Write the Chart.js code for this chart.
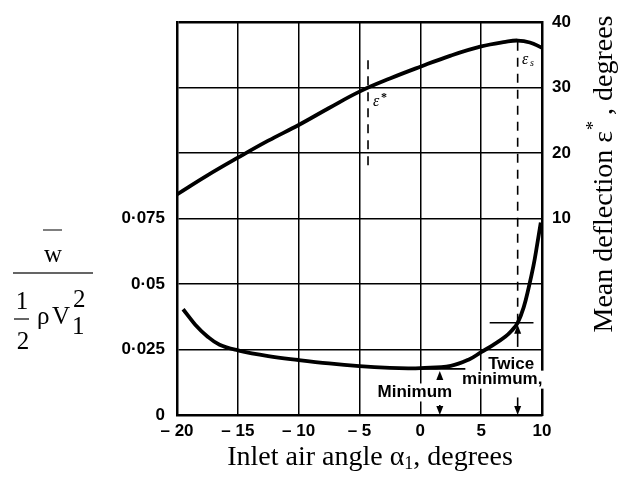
<!DOCTYPE html>
<html>
<head>
<meta charset="utf-8">
<script src="https://cdn.jsdelivr.net/npm/chart.js@4.4.1/dist/chart.umd.min.js"></script>
<style>
  html, body { margin: 0; padding: 0; background: #fff; }
  #wrap { width: 620px; height: 484px; }
</style>
</head>
<body>
<div id="wrap"><canvas id="chart" width="620" height="484"></canvas></div>
<script>
// inlet angle (deg) vs mean deflection (deg, right axis)
const deflectionAngles = [-20, -17.5, -15, -12.5, -10, -7.5, -5, -2.5, 0, 2.5, 5, 7, 8, 9, 10];
const deflectionValues = [13.7, 16.6, 19.3, 21.9, 24.3, 26.9, 29.4, 31.4, 33.2, 34.9, 36.3, 37.0, 37.2, 36.9, 36.1];

// inlet angle (deg) vs loss coefficient (left axis)
const lossAngles = [-19.5, -18.5, -17.5, -16.5, -15, -12.5, -10, -7.5, -5, -2.5, -1, 0, 2.5, 4, 5, 6, 7, 7.5, 8, 8.5, 8.9, 9.3, 9.6, 9.9];
const lossValues = [0.0404, 0.0345, 0.0300, 0.0268, 0.0247, 0.0225, 0.0210, 0.0197, 0.0187, 0.0180, 0.0178, 0.0179, 0.0188, 0.0212, 0.0240, 0.0268, 0.0300, 0.0322, 0.0352, 0.0412, 0.0485, 0.0570, 0.0650, 0.0735];

const xTicks = [-20, -15, -10, -5, 0, 5, 10];
const lossGrid = [0, 0.025, 0.05, 0.075, 0.1, 0.125, 0.15];
const lossLabelled = [0, 0.025, 0.05, 0.075];
const deflectionLabelled = [10, 20, 30, 40];

// annotations (data units)
const nominalAngle = -4.3;
const nominalDash = [34.2, 17.4];
const stallAngle = 8;
const stallDashTop = 37.0;
const minimumLoss = 0.0176;
const minimumLine = [-1, 3.7];
const minimumArrowAngle = 1.6;
const twiceMinimumLoss = 0.0352;
const twiceLine = [5.7, 9.3];

const tickFont = { family: '"Liberation Sans", Arial, sans-serif', size: 17, weight: 'bold' };
const serif = '"Liberation Serif", "Times New Roman", serif';
const titleSize = 28;

function arrow(ctx, x, yFrom, yTo) {
  const dir = yTo < yFrom ? 1 : -1;
  ctx.beginPath();
  ctx.moveTo(x, yFrom);
  ctx.lineTo(x, yTo + dir * 6);
  ctx.stroke();
  ctx.beginPath();
  ctx.moveTo(x, yTo);
  ctx.lineTo(x - 3.5, yTo + dir * 9);
  ctx.lineTo(x + 3.5, yTo + dir * 9);
  ctx.closePath();
  ctx.fill();
}

function boxedText(ctx, text, x, y) {
  const w = ctx.measureText(text).width;
  ctx.fillStyle = '#fff';
  ctx.fillRect(x - w / 2 - 2, y - 9, w + 4, 18);
  ctx.fillStyle = '#000';
  ctx.fillText(text, x, y);
}

const annotations = {
  id: 'annotations',
  afterDatasetsDraw(chart) {
    const ctx = chart.ctx;
    const xs = chart.scales.x, yl = chart.scales.y, yr = chart.scales.y1;
    ctx.save();
    ctx.strokeStyle = '#000';
    ctx.fillStyle = '#000';
    ctx.lineWidth = 1.6;

    // dashed lines
    ctx.setLineDash([9, 7]);
    ctx.beginPath();
    ctx.moveTo(xs.getPixelForValue(nominalAngle), yr.getPixelForValue(nominalDash[0]));
    ctx.lineTo(xs.getPixelForValue(nominalAngle), yr.getPixelForValue(nominalDash[1]));
    ctx.moveTo(xs.getPixelForValue(stallAngle), yr.getPixelForValue(stallDashTop));
    ctx.lineTo(xs.getPixelForValue(stallAngle), yl.getPixelForValue(twiceMinimumLoss));
    ctx.stroke();
    ctx.setLineDash([]);

    // minimum / twice-minimum levels
    ctx.beginPath();
    ctx.moveTo(xs.getPixelForValue(minimumLine[0]), yl.getPixelForValue(minimumLoss));
    ctx.lineTo(xs.getPixelForValue(minimumLine[1]), yl.getPixelForValue(minimumLoss));
    ctx.moveTo(xs.getPixelForValue(twiceLine[0]), yl.getPixelForValue(twiceMinimumLoss));
    ctx.lineTo(xs.getPixelForValue(twiceLine[1]), yl.getPixelForValue(twiceMinimumLoss));
    ctx.stroke();

    // dimension arrows
    const xm = xs.getPixelForValue(minimumArrowAngle);
    arrow(ctx, xm, yl.getPixelForValue(0.0138), yl.getPixelForValue(minimumLoss) + 2);
    arrow(ctx, xm, yl.getPixelForValue(0.0038), yl.getPixelForValue(0));
    const xt = xs.getPixelForValue(stallAngle);
    arrow(ctx, xt, yl.getPixelForValue(0.026), yl.getPixelForValue(twiceMinimumLoss) + 2);
    arrow(ctx, xt, yl.getPixelForValue(0.0067), yl.getPixelForValue(0));

    // labels
    ctx.font = 'bold 17px "Liberation Sans", Arial, sans-serif';
    ctx.textAlign = 'center';
    ctx.textBaseline = 'middle';
    boxedText(ctx, 'Minimum', xs.getPixelForValue(-0.45), yl.getPixelForValue(0.0086));
    boxedText(ctx, 'Twice', xs.getPixelForValue(7.47), yl.getPixelForValue(0.0195));
    boxedText(ctx, 'minimum,', xs.getPixelForValue(6.73), yl.getPixelForValue(0.0135));

    ctx.font = 'italic 16px ' + serif;
    ctx.textAlign = 'left';
    let ex = xs.getPixelForValue(-3.9), ey = yr.getPixelForValue(27.9);
    ctx.fillText('\u03b5', ex, ey);
    ctx.font = 'bold 12px ' + serif;
    ctx.fillText('*', ex + 8, ey - 4);
    ex = xs.getPixelForValue(8.35); ey = yr.getPixelForValue(34.3);
    ctx.font = 'italic 16px ' + serif;
    ctx.fillText('\u03b5', ex, ey);
    ctx.font = 'italic 10px ' + serif;
    ctx.fillText('s', ex + 8, ey + 4);
    ctx.restore();
  }
};

const titles = {
  id: 'titles',
  beforeDraw(chart) {
    const ctx = chart.ctx;
    ctx.save();
    ctx.fillStyle = '#fff';
    ctx.fillRect(0, 0, chart.width, chart.height);
    ctx.restore();
  },
  afterDraw(chart) {
    const ctx = chart.ctx;
    const big = titleSize + 'px ' + serif;
    const small = Math.round(titleSize * 0.65) + 'px ' + serif;
    ctx.save();
    ctx.fillStyle = '#000';
    ctx.strokeStyle = '#000';
    ctx.textBaseline = 'alphabetic';
    ctx.textAlign = 'left';

    // x title
    const a = 'Inlet air angle \u03b1', b = ', degrees';
    ctx.font = big;
    const wa = ctx.measureText(a).width;
    const wb = ctx.measureText(b).width;
    ctx.font = small;
    const ws = ctx.measureText('1').width;
    let x0 = 370 - (wa + ws + wb) / 2;
    ctx.font = big;
    ctx.fillText(a, x0, 465);
    ctx.fillText(b, x0 + wa + ws, 465);
    ctx.font = small;
    ctx.fillText('1', x0 + wa, 469);

    // right title
    ctx.save();
    ctx.translate(612, 174);
    ctx.rotate(-Math.PI / 2);
    const r1 = 'Mean deflection \u03b5', r2 = ' , degrees';
    ctx.font = big;
    const w1 = ctx.measureText(r1).width;
    const w3 = ctx.measureText(r2).width;
    ctx.font = small;
    const w2 = ctx.measureText('*').width;
    x0 = -(w1 + w2 + w3) / 2;
    ctx.font = big;
    ctx.fillText(r1, x0, 0);
    ctx.fillText(r2, x0 + w1 + w2, 0);
    ctx.font = small;
    ctx.fillText('*', x0 + w1 + 1, -13);
    ctx.restore();

    // left title: w-bar over (1/2) rho V1^2
    ctx.lineWidth = 1.5;
    ctx.strokeStyle = '#555';
    ctx.beginPath();
    ctx.moveTo(43, 230); ctx.lineTo(62, 230);
    ctx.stroke();
    ctx.strokeStyle = '#333';
    ctx.beginPath();
    ctx.moveTo(13, 273); ctx.lineTo(93, 273);
    ctx.moveTo(14, 319); ctx.lineTo(29, 319);
    ctx.stroke();
    ctx.font = '25px ' + serif;
    ctx.textAlign = 'center';
    ctx.fillText('w', 53, 262);
    ctx.fillText('1', 22, 309);
    ctx.fillText('2', 23, 349);
    ctx.textAlign = 'left';
    ctx.fillText('\u03c1', 37, 324);
    ctx.fillText('V', 52, 324);
    ctx.fillText('2', 73, 307);
    ctx.fillText('1', 72, 334);
    ctx.restore();
  }
};

new Chart(document.getElementById('chart'), {
  type: 'line',
  data: {
    datasets: [
      {
        label: 'Mean deflection',
        data: deflectionAngles.map((a, i) => ({ x: a, y: deflectionValues[i] })),
        yAxisID: 'y1',
        borderColor: '#000',
        borderWidth: 3.8,
        pointRadius: 0,
        tension: 0.4,
        fill: false
      },
      {
        label: 'Loss',
        data: lossAngles.map((a, i) => ({ x: a, y: lossValues[i] })),
        yAxisID: 'y',
        borderColor: '#000',
        borderWidth: 3.8,
        pointRadius: 0,
        tension: 0.4,
        fill: false
      }
    ]
  },
  options: {
    responsive: false,
    animation: false,
    layout: { padding: { top: 14, left: 0, right: 0, bottom: 0 } },
    plugins: { legend: { display: false }, tooltip: { enabled: false } },
    scales: {
      x: {
        type: 'linear',
        min: -20,
        max: 10,
        afterBuildTicks: s => { s.ticks = xTicks.map(v => ({ value: v })); },
        afterFit: s => { s.height = 69; },
        grid: { color: '#000', lineWidth: 1.5, drawTicks: false },
        border: { color: '#000', width: 2.5 },
        ticks: {
          color: '#000',
          font: tickFont,
          padding: 6,
          maxRotation: 0,
          callback: v => v < 0 ? '\u2013 ' + Math.abs(v) : String(v)
        }
      },
      y: {
        position: 'left',
        min: 0,
        max: 0.15,
        afterBuildTicks: s => { s.ticks = lossGrid.map(v => ({ value: v })); },
        afterFit: s => { s.width = 177; },
        grid: {
          color: '#000',
          lineWidth: c => c.tick && c.tick.value === 0.15 ? 2.5 : 1.5,
          drawTicks: false
        },
        border: { color: '#000', width: 2.5 },
        ticks: {
          color: '#000',
          font: tickFont,
          padding: 12,
          callback: v => lossLabelled.includes(v) ? (v === 0 ? '0' : String(v).replace('.', '\u00b7')) : ''
        }
      },
      y1: {
        position: 'right',
        min: -20,
        max: 40,
        afterBuildTicks: s => { s.ticks = [-20, -10, 0, 10, 20, 30, 40].map(v => ({ value: v })); },
        afterFit: s => { s.width = 78; },
        grid: { display: false, drawTicks: false },
        border: { color: '#000', width: 2.5 },
        ticks: {
          color: '#000',
          font: tickFont,
          padding: 10,
          callback: v => deflectionLabelled.includes(v) ? String(v) : ''
        }
      }
    }
  },
  plugins: [annotations, titles]
});
</script>
</body>
</html>
